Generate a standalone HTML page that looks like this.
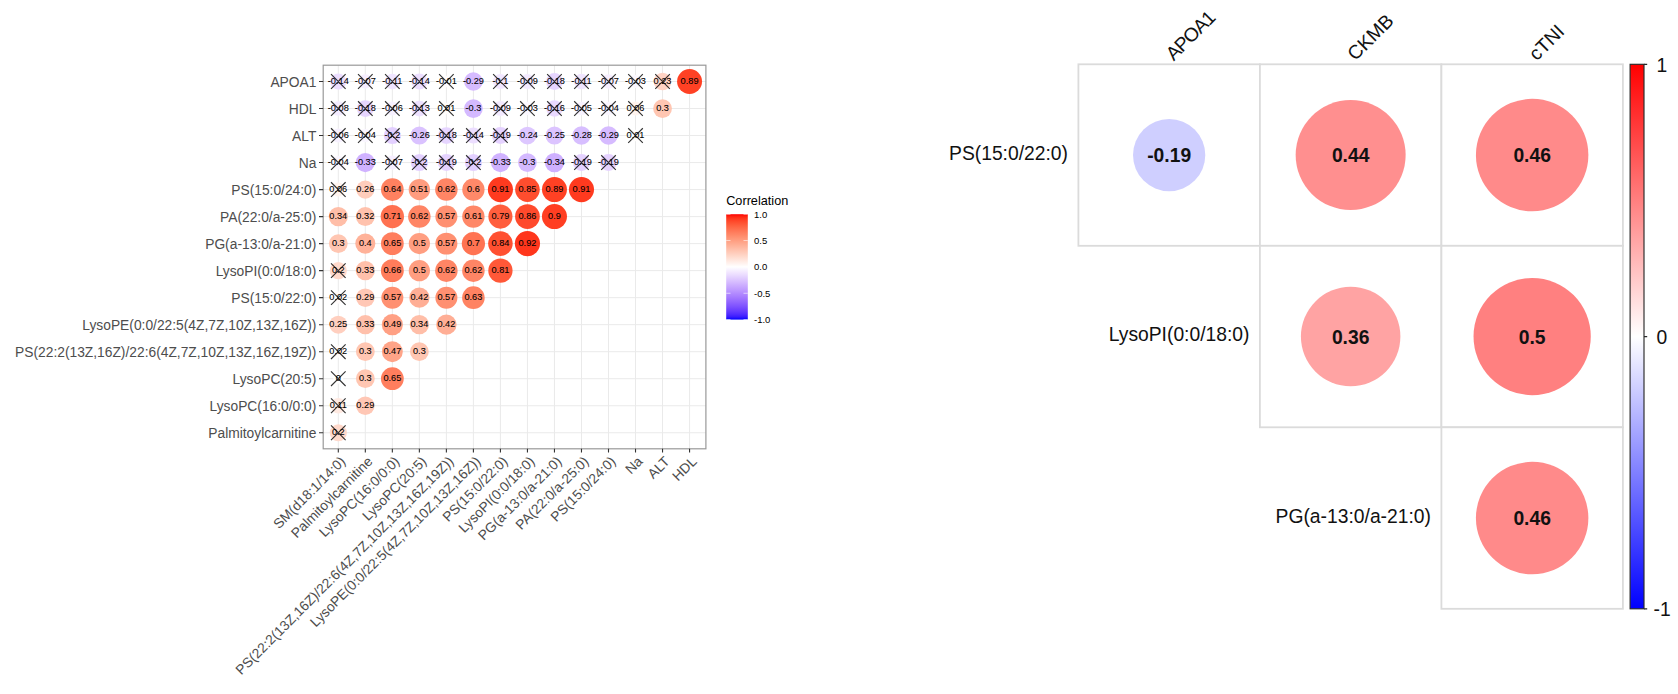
<!DOCTYPE html>
<html lang="en"><head><meta charset="utf-8"><title>Correlation plots</title>
<style>html,body{margin:0;padding:0;background:#fff}svg{display:block}</style></head>
<body>
<svg width="1678" height="694" viewBox="0 0 1678 694" font-family="'Liberation Sans', sans-serif">
<rect width="1678" height="694" fill="#fff"/>
<g id="left">
<path d="M338.30 65.2V448.8M323.2 81.50H705.9M365.32 65.2V448.8M323.2 108.52H705.9M392.34 65.2V448.8M323.2 135.54H705.9M419.36 65.2V448.8M323.2 162.56H705.9M446.38 65.2V448.8M323.2 189.58H705.9M473.40 65.2V448.8M323.2 216.60H705.9M500.42 65.2V448.8M323.2 243.62H705.9M527.44 65.2V448.8M323.2 270.64H705.9M554.46 65.2V448.8M323.2 297.66H705.9M581.48 65.2V448.8M323.2 324.68H705.9M608.50 65.2V448.8M323.2 351.70H705.9M635.52 65.2V448.8M323.2 378.72H705.9M662.54 65.2V448.8M323.2 405.74H705.9M689.56 65.2V448.8M323.2 432.76H705.9" stroke="#eaeaea" stroke-width="1" fill="none"/>
<circle cx="338.30" cy="81.50" r="7.99" fill="#ecdeff"/>
<circle cx="365.32" cy="81.50" r="7.13" fill="#f6eeff"/>
<circle cx="392.34" cy="81.50" r="7.65" fill="#f0e5ff"/>
<circle cx="419.36" cy="81.50" r="7.99" fill="#ecdeff"/>
<circle cx="446.38" cy="81.50" r="5.83" fill="#fefdff"/>
<circle cx="473.40" cy="81.50" r="9.28" fill="#d6bbff"/>
<circle cx="500.42" cy="81.50" r="7.53" fill="#f2e7ff"/>
<circle cx="527.44" cy="81.50" r="7.40" fill="#f3eaff"/>
<circle cx="554.46" cy="81.50" r="8.38" fill="#e6d5ff"/>
<circle cx="581.48" cy="81.50" r="7.65" fill="#f0e5ff"/>
<circle cx="608.50" cy="81.50" r="7.13" fill="#f6eeff"/>
<circle cx="635.52" cy="81.50" r="6.41" fill="#fbf8ff"/>
<circle cx="662.54" cy="81.50" r="8.82" fill="#ffd3c4"/>
<circle cx="689.56" cy="81.50" r="12.48" fill="#ff4124"/>
<circle cx="338.30" cy="108.52" r="7.27" fill="#f4ecff"/>
<circle cx="365.32" cy="108.52" r="8.38" fill="#e6d5ff"/>
<circle cx="392.34" cy="108.52" r="6.97" fill="#f7f1ff"/>
<circle cx="419.36" cy="108.52" r="7.88" fill="#ede0ff"/>
<circle cx="446.38" cy="108.52" r="5.83" fill="#fffdfc"/>
<circle cx="473.40" cy="108.52" r="9.36" fill="#d4b9ff"/>
<circle cx="500.42" cy="108.52" r="7.40" fill="#f3eaff"/>
<circle cx="527.44" cy="108.52" r="6.41" fill="#fbf8ff"/>
<circle cx="554.46" cy="108.52" r="8.19" fill="#e9d9ff"/>
<circle cx="581.48" cy="108.52" r="6.80" fill="#f8f3ff"/>
<circle cx="608.50" cy="108.52" r="6.62" fill="#faf6ff"/>
<circle cx="635.52" cy="108.52" r="6.97" fill="#fff4ef"/>
<circle cx="662.54" cy="108.52" r="9.36" fill="#ffc6b2"/>
<circle cx="338.30" cy="135.54" r="6.97" fill="#f7f1ff"/>
<circle cx="365.32" cy="135.54" r="6.62" fill="#faf6ff"/>
<circle cx="392.34" cy="135.54" r="8.56" fill="#e3d0ff"/>
<circle cx="419.36" cy="135.54" r="9.06" fill="#dac2ff"/>
<circle cx="446.38" cy="135.54" r="8.38" fill="#e6d5ff"/>
<circle cx="473.40" cy="135.54" r="7.99" fill="#ecdeff"/>
<circle cx="500.42" cy="135.54" r="8.48" fill="#e5d2ff"/>
<circle cx="527.44" cy="135.54" r="8.90" fill="#ddc7ff"/>
<circle cx="554.46" cy="135.54" r="8.98" fill="#dcc4ff"/>
<circle cx="581.48" cy="135.54" r="9.21" fill="#d7beff"/>
<circle cx="608.50" cy="135.54" r="9.28" fill="#d6bbff"/>
<circle cx="635.52" cy="135.54" r="5.83" fill="#fffdfc"/>
<circle cx="338.30" cy="162.56" r="6.62" fill="#faf6ff"/>
<circle cx="365.32" cy="162.56" r="9.57" fill="#d0b2ff"/>
<circle cx="392.34" cy="162.56" r="7.13" fill="#f6eeff"/>
<circle cx="419.36" cy="162.56" r="8.56" fill="#e3d0ff"/>
<circle cx="446.38" cy="162.56" r="8.48" fill="#e5d2ff"/>
<circle cx="473.40" cy="162.56" r="8.56" fill="#e3d0ff"/>
<circle cx="500.42" cy="162.56" r="9.57" fill="#d0b2ff"/>
<circle cx="527.44" cy="162.56" r="9.36" fill="#d4b9ff"/>
<circle cx="554.46" cy="162.56" r="9.64" fill="#ceb0ff"/>
<circle cx="581.48" cy="162.56" r="8.48" fill="#e5d2ff"/>
<circle cx="608.50" cy="162.56" r="8.48" fill="#e5d2ff"/>
<circle cx="338.30" cy="189.58" r="6.97" fill="#fff4ef"/>
<circle cx="365.32" cy="189.58" r="9.06" fill="#ffcdbc"/>
<circle cx="392.34" cy="189.58" r="11.35" fill="#ff8160"/>
<circle cx="419.36" cy="189.58" r="10.67" fill="#ff9c7f"/>
<circle cx="446.38" cy="189.58" r="11.25" fill="#ff8565"/>
<circle cx="473.40" cy="189.58" r="11.15" fill="#ff8969"/>
<circle cx="500.42" cy="189.58" r="12.56" fill="#ff3a1f"/>
<circle cx="527.44" cy="189.58" r="12.31" fill="#ff4d2e"/>
<circle cx="554.46" cy="189.58" r="12.48" fill="#ff4124"/>
<circle cx="581.48" cy="189.58" r="12.56" fill="#ff3a1f"/>
<circle cx="338.30" cy="216.60" r="9.64" fill="#ffbea8"/>
<circle cx="365.32" cy="216.60" r="9.50" fill="#ffc2ad"/>
<circle cx="392.34" cy="216.60" r="11.68" fill="#ff7150"/>
<circle cx="419.36" cy="216.60" r="11.25" fill="#ff8565"/>
<circle cx="446.38" cy="216.60" r="10.99" fill="#ff9071"/>
<circle cx="473.40" cy="216.60" r="11.20" fill="#ff8767"/>
<circle cx="500.42" cy="216.60" r="12.05" fill="#ff5e3d"/>
<circle cx="527.44" cy="216.60" r="12.35" fill="#ff4a2c"/>
<circle cx="554.46" cy="216.60" r="12.52" fill="#ff3e22"/>
<circle cx="338.30" cy="243.62" r="9.36" fill="#ffc6b2"/>
<circle cx="365.32" cy="243.62" r="10.02" fill="#ffb299"/>
<circle cx="392.34" cy="243.62" r="11.39" fill="#ff7e5e"/>
<circle cx="419.36" cy="243.62" r="10.61" fill="#ff9e81"/>
<circle cx="446.38" cy="243.62" r="10.99" fill="#ff9071"/>
<circle cx="473.40" cy="243.62" r="11.63" fill="#ff7352"/>
<circle cx="500.42" cy="243.62" r="12.26" fill="#ff5031"/>
<circle cx="527.44" cy="243.62" r="12.60" fill="#ff361c"/>
<circle cx="338.30" cy="270.64" r="8.56" fill="#ffd9cb"/>
<circle cx="365.32" cy="270.64" r="9.57" fill="#ffc0ab"/>
<circle cx="392.34" cy="270.64" r="11.44" fill="#ff7c5b"/>
<circle cx="419.36" cy="270.64" r="10.61" fill="#ff9e81"/>
<circle cx="446.38" cy="270.64" r="11.25" fill="#ff8565"/>
<circle cx="473.40" cy="270.64" r="11.25" fill="#ff8565"/>
<circle cx="500.42" cy="270.64" r="12.13" fill="#ff5838"/>
<circle cx="338.30" cy="297.66" r="6.15" fill="#fffbfa"/>
<circle cx="365.32" cy="297.66" r="9.28" fill="#ffc7b5"/>
<circle cx="392.34" cy="297.66" r="10.99" fill="#ff9071"/>
<circle cx="419.36" cy="297.66" r="10.15" fill="#ffae95"/>
<circle cx="446.38" cy="297.66" r="10.99" fill="#ff9071"/>
<circle cx="473.40" cy="297.66" r="11.30" fill="#ff8362"/>
<circle cx="338.30" cy="324.68" r="8.98" fill="#ffcfbf"/>
<circle cx="365.32" cy="324.68" r="9.57" fill="#ffc0ab"/>
<circle cx="392.34" cy="324.68" r="10.56" fill="#ffa084"/>
<circle cx="419.36" cy="324.68" r="9.64" fill="#ffbea8"/>
<circle cx="446.38" cy="324.68" r="10.15" fill="#ffae95"/>
<circle cx="338.30" cy="351.70" r="6.15" fill="#fffbfa"/>
<circle cx="365.32" cy="351.70" r="9.36" fill="#ffc6b2"/>
<circle cx="392.34" cy="351.70" r="10.44" fill="#ffa488"/>
<circle cx="419.36" cy="351.70" r="9.36" fill="#ffc6b2"/>
<circle cx="338.30" cy="378.72" r="5.04" fill="#ffffff"/>
<circle cx="365.32" cy="378.72" r="9.36" fill="#ffc6b2"/>
<circle cx="392.34" cy="378.72" r="11.39" fill="#ff7e5e"/>
<circle cx="338.30" cy="405.74" r="7.65" fill="#ffeae2"/>
<circle cx="365.32" cy="405.74" r="9.28" fill="#ffc7b5"/>
<circle cx="338.30" cy="432.76" r="8.56" fill="#ffd9cb"/>
<g font-size="9.2" text-anchor="middle" fill="#000" stroke="#000" stroke-width="0.08">
<text x="338.30" y="84.10">-0.14</text>
<text x="365.32" y="84.10">-0.07</text>
<text x="392.34" y="84.10">-0.11</text>
<text x="419.36" y="84.10">-0.14</text>
<text x="446.38" y="84.10">-0.01</text>
<text x="473.40" y="84.10">-0.29</text>
<text x="500.42" y="84.10">-0.1</text>
<text x="527.44" y="84.10">-0.09</text>
<text x="554.46" y="84.10">-0.18</text>
<text x="581.48" y="84.10">-0.11</text>
<text x="608.50" y="84.10">-0.07</text>
<text x="635.52" y="84.10">-0.03</text>
<text x="662.54" y="84.10">0.23</text>
<text x="689.56" y="84.10">0.89</text>
<text x="338.30" y="111.12">-0.08</text>
<text x="365.32" y="111.12">-0.18</text>
<text x="392.34" y="111.12">-0.06</text>
<text x="419.36" y="111.12">-0.13</text>
<text x="446.38" y="111.12">0.01</text>
<text x="473.40" y="111.12">-0.3</text>
<text x="500.42" y="111.12">-0.09</text>
<text x="527.44" y="111.12">-0.03</text>
<text x="554.46" y="111.12">-0.16</text>
<text x="581.48" y="111.12">-0.05</text>
<text x="608.50" y="111.12">-0.04</text>
<text x="635.52" y="111.12">0.06</text>
<text x="662.54" y="111.12">0.3</text>
<text x="338.30" y="138.14">-0.06</text>
<text x="365.32" y="138.14">-0.04</text>
<text x="392.34" y="138.14">-0.2</text>
<text x="419.36" y="138.14">-0.26</text>
<text x="446.38" y="138.14">-0.18</text>
<text x="473.40" y="138.14">-0.14</text>
<text x="500.42" y="138.14">-0.19</text>
<text x="527.44" y="138.14">-0.24</text>
<text x="554.46" y="138.14">-0.25</text>
<text x="581.48" y="138.14">-0.28</text>
<text x="608.50" y="138.14">-0.29</text>
<text x="635.52" y="138.14">0.01</text>
<text x="338.30" y="165.16">-0.04</text>
<text x="365.32" y="165.16">-0.33</text>
<text x="392.34" y="165.16">-0.07</text>
<text x="419.36" y="165.16">-0.2</text>
<text x="446.38" y="165.16">-0.19</text>
<text x="473.40" y="165.16">-0.2</text>
<text x="500.42" y="165.16">-0.33</text>
<text x="527.44" y="165.16">-0.3</text>
<text x="554.46" y="165.16">-0.34</text>
<text x="581.48" y="165.16">-0.19</text>
<text x="608.50" y="165.16">-0.19</text>
<text x="338.30" y="192.18">0.06</text>
<text x="365.32" y="192.18">0.26</text>
<text x="392.34" y="192.18">0.64</text>
<text x="419.36" y="192.18">0.51</text>
<text x="446.38" y="192.18">0.62</text>
<text x="473.40" y="192.18">0.6</text>
<text x="500.42" y="192.18">0.91</text>
<text x="527.44" y="192.18">0.85</text>
<text x="554.46" y="192.18">0.89</text>
<text x="581.48" y="192.18">0.91</text>
<text x="338.30" y="219.20">0.34</text>
<text x="365.32" y="219.20">0.32</text>
<text x="392.34" y="219.20">0.71</text>
<text x="419.36" y="219.20">0.62</text>
<text x="446.38" y="219.20">0.57</text>
<text x="473.40" y="219.20">0.61</text>
<text x="500.42" y="219.20">0.79</text>
<text x="527.44" y="219.20">0.86</text>
<text x="554.46" y="219.20">0.9</text>
<text x="338.30" y="246.22">0.3</text>
<text x="365.32" y="246.22">0.4</text>
<text x="392.34" y="246.22">0.65</text>
<text x="419.36" y="246.22">0.5</text>
<text x="446.38" y="246.22">0.57</text>
<text x="473.40" y="246.22">0.7</text>
<text x="500.42" y="246.22">0.84</text>
<text x="527.44" y="246.22">0.92</text>
<text x="338.30" y="273.24">0.2</text>
<text x="365.32" y="273.24">0.33</text>
<text x="392.34" y="273.24">0.66</text>
<text x="419.36" y="273.24">0.5</text>
<text x="446.38" y="273.24">0.62</text>
<text x="473.40" y="273.24">0.62</text>
<text x="500.42" y="273.24">0.81</text>
<text x="338.30" y="300.26">0.02</text>
<text x="365.32" y="300.26">0.29</text>
<text x="392.34" y="300.26">0.57</text>
<text x="419.36" y="300.26">0.42</text>
<text x="446.38" y="300.26">0.57</text>
<text x="473.40" y="300.26">0.63</text>
<text x="338.30" y="327.28">0.25</text>
<text x="365.32" y="327.28">0.33</text>
<text x="392.34" y="327.28">0.49</text>
<text x="419.36" y="327.28">0.34</text>
<text x="446.38" y="327.28">0.42</text>
<text x="338.30" y="354.30">0.02</text>
<text x="365.32" y="354.30">0.3</text>
<text x="392.34" y="354.30">0.47</text>
<text x="419.36" y="354.30">0.3</text>
<text x="338.30" y="381.32">0</text>
<text x="365.32" y="381.32">0.3</text>
<text x="392.34" y="381.32">0.65</text>
<text x="338.30" y="408.34">0.11</text>
<text x="365.32" y="408.34">0.29</text>
<text x="338.30" y="435.36">0.2</text>
</g>
<path d="M331.00 74.20L345.60 88.80M331.00 88.80L345.60 74.20M358.02 74.20L372.62 88.80M358.02 88.80L372.62 74.20M385.04 74.20L399.64 88.80M385.04 88.80L399.64 74.20M412.06 74.20L426.66 88.80M412.06 88.80L426.66 74.20M439.08 74.20L453.68 88.80M439.08 88.80L453.68 74.20M493.12 74.20L507.72 88.80M493.12 88.80L507.72 74.20M520.14 74.20L534.74 88.80M520.14 88.80L534.74 74.20M547.16 74.20L561.76 88.80M547.16 88.80L561.76 74.20M574.18 74.20L588.78 88.80M574.18 88.80L588.78 74.20M601.20 74.20L615.80 88.80M601.20 88.80L615.80 74.20M628.22 74.20L642.82 88.80M628.22 88.80L642.82 74.20M655.24 74.20L669.84 88.80M655.24 88.80L669.84 74.20M331.00 101.22L345.60 115.82M331.00 115.82L345.60 101.22M358.02 101.22L372.62 115.82M358.02 115.82L372.62 101.22M385.04 101.22L399.64 115.82M385.04 115.82L399.64 101.22M412.06 101.22L426.66 115.82M412.06 115.82L426.66 101.22M439.08 101.22L453.68 115.82M439.08 115.82L453.68 101.22M493.12 101.22L507.72 115.82M493.12 115.82L507.72 101.22M520.14 101.22L534.74 115.82M520.14 115.82L534.74 101.22M547.16 101.22L561.76 115.82M547.16 115.82L561.76 101.22M574.18 101.22L588.78 115.82M574.18 115.82L588.78 101.22M601.20 101.22L615.80 115.82M601.20 115.82L615.80 101.22M628.22 101.22L642.82 115.82M628.22 115.82L642.82 101.22M331.00 128.24L345.60 142.84M331.00 142.84L345.60 128.24M358.02 128.24L372.62 142.84M358.02 142.84L372.62 128.24M385.04 128.24L399.64 142.84M385.04 142.84L399.64 128.24M439.08 128.24L453.68 142.84M439.08 142.84L453.68 128.24M466.10 128.24L480.70 142.84M466.10 142.84L480.70 128.24M493.12 128.24L507.72 142.84M493.12 142.84L507.72 128.24M628.22 128.24L642.82 142.84M628.22 142.84L642.82 128.24M331.00 155.26L345.60 169.86M331.00 169.86L345.60 155.26M385.04 155.26L399.64 169.86M385.04 169.86L399.64 155.26M412.06 155.26L426.66 169.86M412.06 169.86L426.66 155.26M439.08 155.26L453.68 169.86M439.08 169.86L453.68 155.26M466.10 155.26L480.70 169.86M466.10 169.86L480.70 155.26M574.18 155.26L588.78 169.86M574.18 169.86L588.78 155.26M601.20 155.26L615.80 169.86M601.20 169.86L615.80 155.26M331.00 182.28L345.60 196.88M331.00 196.88L345.60 182.28M331.00 263.34L345.60 277.94M331.00 277.94L345.60 263.34M331.00 290.36L345.60 304.96M331.00 304.96L345.60 290.36M331.00 344.40L345.60 359.00M331.00 359.00L345.60 344.40M331.00 371.42L345.60 386.02M331.00 386.02L345.60 371.42M331.00 398.44L345.60 413.04M331.00 413.04L345.60 398.44M331.00 425.46L345.60 440.06M331.00 440.06L345.60 425.46" stroke="#000" stroke-opacity="0.8" stroke-width="1.15" fill="none"/>
<rect x="323.2" y="65.2" width="382.70" height="383.60" fill="none" stroke="#999999" stroke-width="1.2"/>
<path d="M319.00 81.50H323.2M338.30 448.8v3.6M319.00 108.52H323.2M365.32 448.8v3.6M319.00 135.54H323.2M392.34 448.8v3.6M319.00 162.56H323.2M419.36 448.8v3.6M319.00 189.58H323.2M446.38 448.8v3.6M319.00 216.60H323.2M473.40 448.8v3.6M319.00 243.62H323.2M500.42 448.8v3.6M319.00 270.64H323.2M527.44 448.8v3.6M319.00 297.66H323.2M554.46 448.8v3.6M319.00 324.68H323.2M581.48 448.8v3.6M319.00 351.70H323.2M608.50 448.8v3.6M319.00 378.72H323.2M635.52 448.8v3.6M319.00 405.74H323.2M662.54 448.8v3.6M319.00 432.76H323.2M689.56 448.8v3.6" stroke="#333" stroke-width="1.1" fill="none"/>
<g font-size="13.8" text-anchor="end" fill="#4d4d4d">
<text x="316.4" y="86.50">APOA1</text>
<text x="316.4" y="113.52">HDL</text>
<text x="316.4" y="140.54">ALT</text>
<text x="316.4" y="167.56">Na</text>
<text x="316.4" y="194.58">PS(15:0/24:0)</text>
<text x="316.4" y="221.60">PA(22:0/a-25:0)</text>
<text x="316.4" y="248.62">PG(a-13:0/a-21:0)</text>
<text x="316.4" y="275.64">LysoPI(0:0/18:0)</text>
<text x="316.4" y="302.66">PS(15:0/22:0)</text>
<text x="316.4" y="329.68">LysoPE(0:0/22:5(4Z,7Z,10Z,13Z,16Z))</text>
<text x="316.4" y="356.70">PS(22:2(13Z,16Z)/22:6(4Z,7Z,10Z,13Z,16Z,19Z))</text>
<text x="316.4" y="383.72">LysoPC(20:5)</text>
<text x="316.4" y="410.74">LysoPC(16:0/0:0)</text>
<text x="316.4" y="437.76">Palmitoylcarnitine</text>
</g>
<g font-size="13.8" text-anchor="end" fill="#4d4d4d">
<text transform="translate(346.30 462.30) rotate(-45)">SM(d18:1/14:0)</text>
<text transform="translate(373.32 462.30) rotate(-45)">Palmitoylcarnitine</text>
<text transform="translate(400.34 462.30) rotate(-45)">LysoPC(16:0/0:0)</text>
<text transform="translate(427.36 462.30) rotate(-45)">LysoPC(20:5)</text>
<text transform="translate(454.38 462.30) rotate(-45)">PS(22:2(13Z,16Z)/22:6(4Z,7Z,10Z,13Z,16Z,19Z))</text>
<text transform="translate(481.40 462.30) rotate(-45)">LysoPE(0:0/22:5(4Z,7Z,10Z,13Z,16Z))</text>
<text transform="translate(508.42 462.30) rotate(-45)">PS(15:0/22:0)</text>
<text transform="translate(535.44 462.30) rotate(-45)">LysoPI(0:0/18:0)</text>
<text transform="translate(562.46 462.30) rotate(-45)">PG(a-13:0/a-21:0)</text>
<text transform="translate(589.48 462.30) rotate(-45)">PA(22:0/a-25:0)</text>
<text transform="translate(616.50 462.30) rotate(-45)">PS(15:0/24:0)</text>
<text transform="translate(643.52 462.30) rotate(-45)">Na</text>
<text transform="translate(670.54 462.30) rotate(-45)">ALT</text>
<text transform="translate(697.56 462.30) rotate(-45)">HDL</text>
</g>
<defs><linearGradient id="lg" x1="0" y1="0" x2="0" y2="1">
<stop offset="0.0000" stop-color="#ff0000"/>
<stop offset="0.0250" stop-color="#ff2913"/>
<stop offset="0.0500" stop-color="#ff3e22"/>
<stop offset="0.0750" stop-color="#ff4d2e"/>
<stop offset="0.1000" stop-color="#ff5b3a"/>
<stop offset="0.1250" stop-color="#ff6846"/>
<stop offset="0.1500" stop-color="#ff7352"/>
<stop offset="0.1750" stop-color="#ff7e5e"/>
<stop offset="0.2000" stop-color="#ff8969"/>
<stop offset="0.2250" stop-color="#ff9475"/>
<stop offset="0.2500" stop-color="#ff9e81"/>
<stop offset="0.2750" stop-color="#ffa88d"/>
<stop offset="0.3000" stop-color="#ffb299"/>
<stop offset="0.3250" stop-color="#ffbca6"/>
<stop offset="0.3500" stop-color="#ffc6b2"/>
<stop offset="0.3750" stop-color="#ffcfbf"/>
<stop offset="0.4000" stop-color="#ffd9cb"/>
<stop offset="0.4250" stop-color="#ffe2d8"/>
<stop offset="0.4500" stop-color="#ffece5"/>
<stop offset="0.4750" stop-color="#fff5f2"/>
<stop offset="0.5000" stop-color="#ffffff"/>
<stop offset="0.5250" stop-color="#f8f3ff"/>
<stop offset="0.5500" stop-color="#f2e7ff"/>
<stop offset="0.5750" stop-color="#ebdcff"/>
<stop offset="0.6000" stop-color="#e3d0ff"/>
<stop offset="0.6250" stop-color="#dcc4ff"/>
<stop offset="0.6500" stop-color="#d4b9ff"/>
<stop offset="0.6750" stop-color="#ccadff"/>
<stop offset="0.7000" stop-color="#c4a2ff"/>
<stop offset="0.7250" stop-color="#bc97ff"/>
<stop offset="0.7500" stop-color="#b38bff"/>
<stop offset="0.7750" stop-color="#aa80ff"/>
<stop offset="0.8000" stop-color="#a074ff"/>
<stop offset="0.8250" stop-color="#9569ff"/>
<stop offset="0.8500" stop-color="#8a5dff"/>
<stop offset="0.8750" stop-color="#7e52ff"/>
<stop offset="0.9000" stop-color="#7145ff"/>
<stop offset="0.9250" stop-color="#6239ff"/>
<stop offset="0.9500" stop-color="#502bff"/>
<stop offset="0.9750" stop-color="#381bff"/>
<stop offset="1.0000" stop-color="#0000ff"/>
</linearGradient></defs>
<rect x="726.2" y="214.2" width="21.6" height="105.4" fill="url(#lg)"/>
<path d="M726.2 214.20h4.3M747.8 214.20h-4.3M726.2 240.55h4.3M747.8 240.55h-4.3M726.2 266.90h4.3M747.8 266.90h-4.3M726.2 293.25h4.3M747.8 293.25h-4.3M726.2 319.60h4.3M747.8 319.60h-4.3" stroke="#fff" stroke-width="0.6" fill="none"/>
<text x="726.2" y="205.3" font-size="12.7" fill="#000">Correlation</text>
<g font-size="9.5" fill="#000">
<text x="754" y="217.60">1.0</text>
<text x="754" y="243.95">0.5</text>
<text x="754" y="270.30">0.0</text>
<text x="754" y="296.65">-0.5</text>
<text x="754" y="323.00">-1.0</text>
</g>
</g>
<g id="right">
<rect x="1078.40" y="64.30" width="181.5" height="181.5" fill="#fff" stroke="#dbdbdb" stroke-width="1.8"/>
<rect x="1259.90" y="64.30" width="181.5" height="181.5" fill="#fff" stroke="#dbdbdb" stroke-width="1.8"/>
<rect x="1441.40" y="64.30" width="181.5" height="181.5" fill="#fff" stroke="#dbdbdb" stroke-width="1.8"/>
<rect x="1259.90" y="245.80" width="181.5" height="181.5" fill="#fff" stroke="#dbdbdb" stroke-width="1.8"/>
<rect x="1441.40" y="245.80" width="181.5" height="181.5" fill="#fff" stroke="#dbdbdb" stroke-width="1.8"/>
<rect x="1441.40" y="427.30" width="181.5" height="181.5" fill="#fff" stroke="#dbdbdb" stroke-width="1.8"/>
<circle cx="1169.15" cy="155.05" r="36.14" fill="#cfcfff"/>
<circle cx="1350.65" cy="155.05" r="54.99" fill="#ff8f8f"/>
<circle cx="1532.15" cy="155.05" r="56.23" fill="#ff8a8a"/>
<circle cx="1350.65" cy="336.55" r="49.74" fill="#ffa3a3"/>
<circle cx="1532.15" cy="336.55" r="58.62" fill="#ff8080"/>
<circle cx="1532.15" cy="518.05" r="56.23" fill="#ff8a8a"/>
<g font-size="19.3" font-weight="bold" text-anchor="middle" fill="#111">
<text x="1169.15" y="162.20">-0.19</text>
<text x="1350.65" y="162.20">0.44</text>
<text x="1532.15" y="162.20">0.46</text>
<text x="1350.65" y="343.70">0.36</text>
<text x="1532.15" y="343.70">0.5</text>
<text x="1532.15" y="525.20">0.46</text>
</g>
<g font-size="19.3" text-anchor="end" fill="#111">
<text x="1068.00" y="159.65">PS(15:0/22:0)</text>
<text x="1249.50" y="341.15">LysoPI(0:0/18:0)</text>
<text x="1431.00" y="522.65">PG(a-13:0/a-21:0)</text>
</g>
<g font-size="19.3" fill="#111">
<text transform="translate(1173.85 61.50) rotate(-45)" letter-spacing="-0.9">APOA1</text>
<text transform="translate(1355.35 61.50) rotate(-45)">CKMB</text>
<text transform="translate(1536.85 61.50) rotate(-45)">cTNI</text>
</g>
<defs><linearGradient id="cg" x1="0" y1="0" x2="0" y2="1"><stop offset="0" stop-color="#ff0000"/><stop offset="0.5" stop-color="#ffffff"/><stop offset="1" stop-color="#0000ff"/></linearGradient></defs>
<rect x="1630.1" y="64.3" width="13.9" height="544.5" fill="url(#cg)" stroke="#2a2a2a" stroke-width="1.15"/>
<path d="M1644.0 64.30h3.2M1644.0 336.55h3.2M1644.0 608.80h3.2" stroke="#2a2a2a" stroke-width="1.15" fill="none"/>
<g font-size="19.3" fill="#111">
<text x="1656.6" y="71.50">1</text>
<text x="1656.6" y="343.75">0</text>
<text x="1653.6" y="616.00">-1</text>
</g>
</g>
</svg>
</body></html>
